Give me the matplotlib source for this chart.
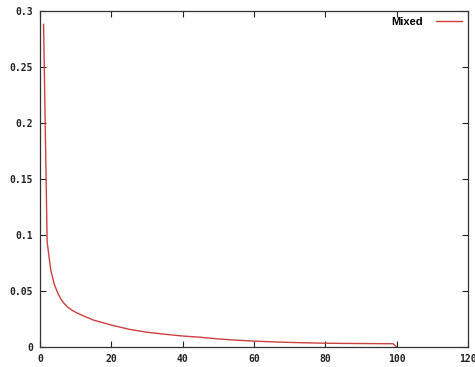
import matplotlib
matplotlib.use("Agg")
import matplotlib.pyplot as plt

x_vals = [1, 2, 3, 4, 5, 6, 7, 8, 9, 10, 12, 15, 20, 25, 30, 35, 40, 45, 50, 55, 60,
          65, 70, 75, 80, 85, 90, 95, 99, 100]
y_vals = [0.288, 0.094, 0.069, 0.056, 0.048, 0.042, 0.038, 0.0350, 0.0328, 0.0310,
          0.0280, 0.0240, 0.0196, 0.0158, 0.0132, 0.0114, 0.0098, 0.0087, 0.0072,
          0.0061, 0.0053, 0.0046, 0.0041, 0.0037, 0.0034, 0.0032, 0.0031, 0.0030,
          0.0029, 0.0]
series_name = "Mixed"
x_ticks = [0, 20, 40, 60, 80, 100, 120]
y_ticks = [0, 0.05, 0.1, 0.15, 0.2, 0.25, 0.3]
y_tick_labels = ["0", "0.05", "0.1", "0.15", "0.2", "0.25", "0.3"]

fig = plt.figure(figsize=(4.75, 3.67), dpi=100)
ax = fig.add_axes([40/475, 20/367, 428/475, 336/367])
ax.plot(x_vals, y_vals, color="#cc4040", lw=1.0, label=series_name)
ax.set_xlim(0, 120)
ax.set_ylim(0, 0.3)
ax.set_xticks(x_ticks)
ax.set_xticklabels([str(t) for t in x_ticks])
ax.set_yticks(y_ticks)
ax.set_yticklabels(y_tick_labels)
ax.tick_params(direction="in", length=4, width=0.8, top=True, right=True,
               labelsize=7, colors="#222222", pad=5)
for lab in ax.get_xticklabels() + ax.get_yticklabels():
    lab.set_fontfamily("DejaVu Sans Mono")
    lab.set_fontweight("bold")
for s in ax.spines.values():
    s.set_linewidth(0.9)
    s.set_color("#333333")
leg = ax.legend(loc="upper right", frameon=False, markerfirst=False,
                handlelength=2.4, borderaxespad=0.1, handletextpad=1.2,
                prop={"family": "Liberation Sans", "weight": "bold", "size": 8})
fig.savefig("out.png", dpi=100)
